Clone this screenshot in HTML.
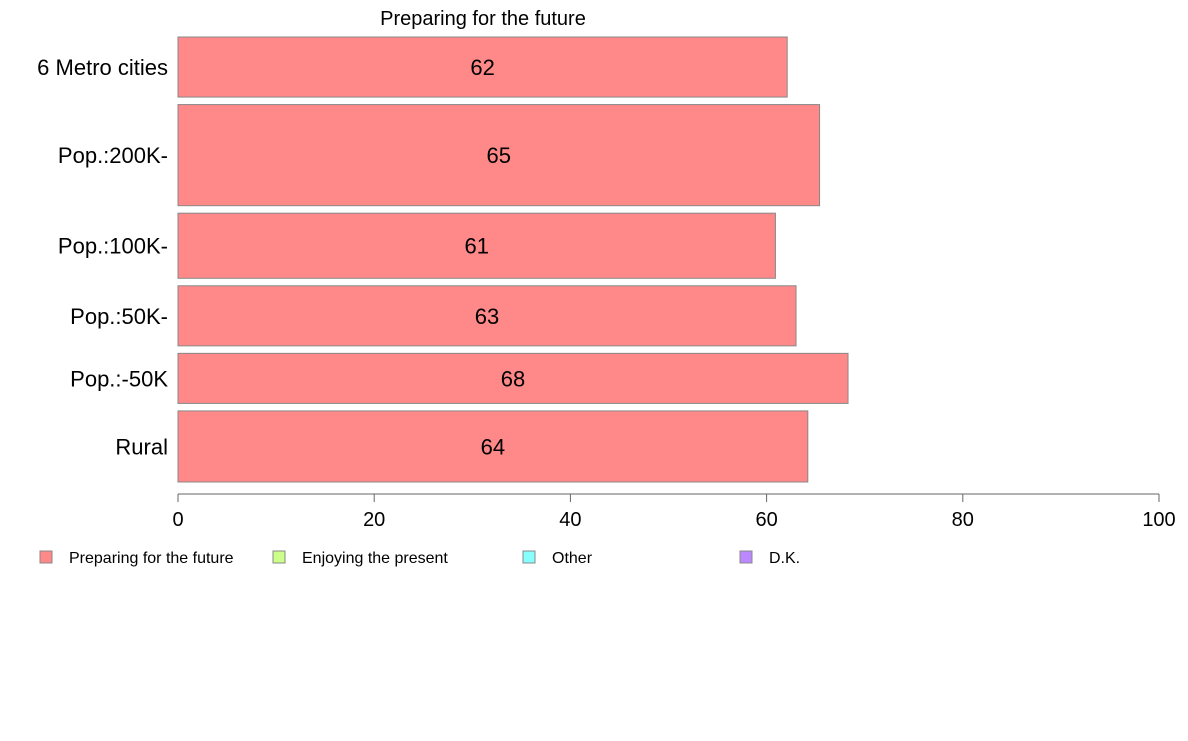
<!DOCTYPE html>
<html><head><meta charset="utf-8"><style>
body{margin:0;background:#fff;font-family:"Liberation Sans",Arial,sans-serif}
svg text{font-family:"Liberation Sans",Arial,sans-serif}
</style></head><body>
<svg id="chart" width="1188" height="736" xmlns="http://www.w3.org/2000/svg">
<text x="483" y="25" font-size="20" text-anchor="middle">Preparing for the future</text>
<g id="bars"></g>
<g id="axis"></g>
<g id="legend"></g>
</svg>
<script>
const categories=["6 Metro cities","Pop.:200K-","Pop.:100K-","Pop.:50K-","Pop.:-50K","Rural"];
const values=[62.1,65.4,60.9,63.0,68.3,64.2];
const labels=["62","65","61","63","68","64"];
const weights=[60,101,65,60,50,71];
const ticks=[0,20,40,60,80,100];
const legendItems=["Preparing for the future","Enjoying the present","Other","D.K."];
const legendColors=["#FF8888","#CCFF88","#88FFFF","#BB88FF"];

const NS="http://www.w3.org/2000/svg";
const x0=178,x1=1159,yTop=37,yBot=482,gap=7.5;
const xs=v=>x0+(x1-x0)*v/100;
function mk(t,a,p){const e=document.createElementNS(NS,t);for(const k in a)e.setAttribute(k,a[k]);p.appendChild(e);return e;}
const bars=document.getElementById('bars');
const totalW=weights.reduce((a,b)=>a+b,0);
const scale=(yBot-yTop-gap*(categories.length-1))/totalW;
let y=yTop;
categories.forEach((c,i)=>{
  const h=weights[i]*scale;
  const r=mk('rect',{x:x0,y:y,width:xs(values[i])-x0,height:h,fill:"#FF8888",stroke:"#888",'stroke-width':1},bars);
  
  
  const t=mk('text',{x:(x0+xs(values[i]))/2,y:y+h/2+8,'font-size':22,'text-anchor':'middle'},bars);
  t.textContent=labels[i];
  
  
  const l=mk('text',{x:168,y:y+h/2+8,'font-size':22,'text-anchor':'end'},bars);
  l.textContent=c;
  
  
  y+=h+gap;
});
const ax=document.getElementById('axis');
const al=mk('line',{x1:x0,x2:x1,y1:494,y2:494,stroke:"#666"},ax);


ticks.forEach(v=>{
  const tl=mk('line',{x1:xs(v),x2:xs(v),y1:494,y2:502,stroke:"#666"},ax);
  
  
  const tt=mk('text',{x:xs(v),y:526,'font-size':20,'text-anchor':'middle'},ax);
  tt.textContent=v;
  
  
});
const lg=document.getElementById('legend');
const lx=[40,273,523,740];
legendItems.forEach((n,i)=>{
  const r=mk('rect',{x:lx[i],y:551,width:12,height:12,fill:legendColors[i],stroke:"#888"},lg);
  
  
  const t=mk('text',{x:lx[i]+29,y:563,'font-size':16},lg);
  t.textContent=n;
  
  
});
</script>
</body></html>
